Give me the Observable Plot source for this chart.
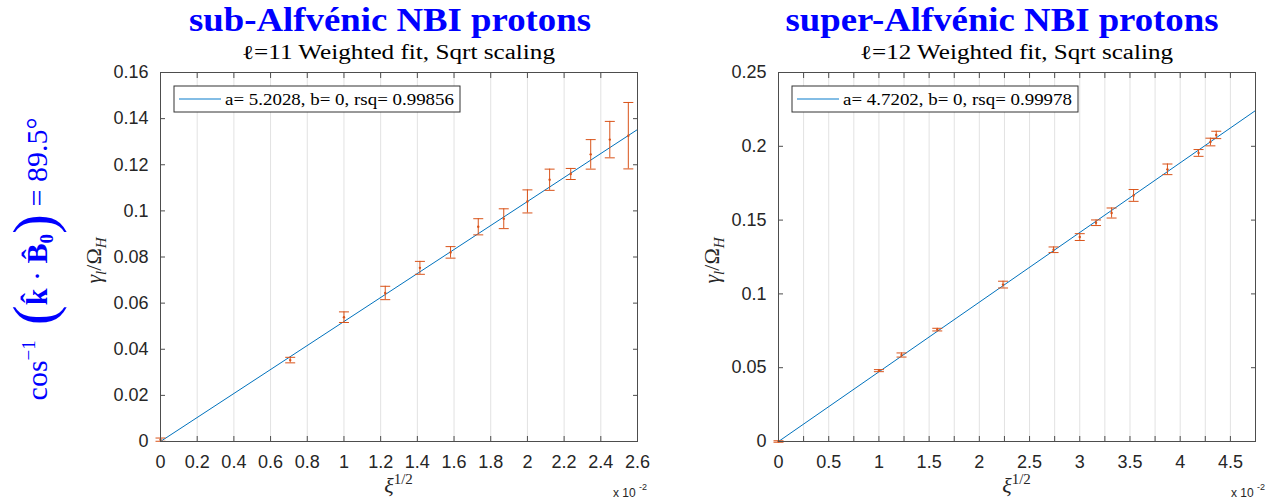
<!DOCTYPE html>
<html>
<head>
<meta charset="utf-8">
<script src="https://cdn.jsdelivr.net/npm/d3@7"></script>
<script src="https://cdn.jsdelivr.net/npm/@observablehq/plot@0.6"></script>
<style>
  html, body { margin: 0; padding: 0; background: #fff; }
  #wrap { display: flex; width: 1287px; height: 501px; overflow: hidden; }
  #wrap svg { display: block; }
</style>
</head>
<body>
<div id="wrap"></div>
<script>
// ---------- data ----------
const titles = ["sub-Alfvénic NBI protons", "super-Alfvénic NBI protons"];
const subtitles = ["ℓ=11 Weighted fit, Sqrt scaling", "ℓ=12 Weighted fit, Sqrt scaling"];
const fitA = [5.2028, 4.7202];
const fitB = [0, 0];
const fitRsq = [0.99856, 0.99978];

// left panel (sub-Alfvenic), x in units of 1e-2
const xSub = [0, 0.707, 1.0, 1.225, 1.414, 1.581, 1.732, 1.871, 2.0, 2.121, 2.236, 2.345, 2.449, 2.55];
const ySub = [0.0008, 0.0353, 0.0539, 0.0644, 0.0753, 0.0820, 0.0931, 0.0966, 0.1041, 0.1135, 0.1160, 0.1245, 0.1309, 0.1326];
const eSub = [0.0007, 0.0012, 0.0023, 0.0029, 0.0028, 0.0025, 0.0035, 0.0043, 0.0050, 0.0046, 0.0024, 0.0064, 0.0079, 0.0144];

// right panel (super-Alfvenic)
const xSup = [0, 1.0, 1.225, 1.581, 2.236, 2.739, 3.0, 3.162, 3.317, 3.536, 3.873, 4.183, 4.301, 4.359];
const ySup = [0, 0.0480, 0.0586, 0.0758, 0.1063, 0.1299, 0.1385, 0.1482, 0.1548, 0.1667, 0.1844, 0.1955, 0.2029, 0.2077];
const eSup = [0.0005, 0.0007, 0.0014, 0.0009, 0.0023, 0.0019, 0.0023, 0.0019, 0.0034, 0.0040, 0.0036, 0.0023, 0.0026, 0.0025];

// axes
const xDomSub = [0, 2.6];
const yDomSub = [0, 0.16];
const xTicksSub = [0, 0.2, 0.4, 0.6, 0.8, 1, 1.2, 1.4, 1.6, 1.8, 2, 2.2, 2.4, 2.6];
const yTicksSub = [0, 0.02, 0.04, 0.06, 0.08, 0.1, 0.12, 0.14, 0.16];

const xDomSup = [0, 4.75];
const yDomSup = [0, 0.25];
const xTicksSup = [0, 0.5, 1, 1.5, 2, 2.5, 3, 3.5, 4, 4.5];
const xMinorSup = [0.25, 0.5, 0.75, 1, 1.25, 1.5, 1.75, 2, 2.25, 2.5, 2.75, 3, 3.25, 3.5, 3.75, 4, 4.25, 4.5];
const yTicksSup = [0, 0.05, 0.1, 0.15, 0.2, 0.25];

const xScaleExp = "-2";
const angleText = "89.5°";

// ---------- styles ----------
const ORANGE = "#D95319";
const BLUE = "#0072BD";
const AXIS = "#262626";
const FRAME = "#4d4d4d";
const GRID = "#e2e2e2";
const SERIF = "'Liberation Serif', 'DejaVu Serif', serif";
const H = 501, MT = 72, MB = 60;

const capSymbol = { draw(ctx) { ctx.moveTo(-5, 0); ctx.lineTo(5, 0); } };

function panel(o) {
  const data = o.xs.map((x, i) => ({ x, y: o.ys[i], e: o.es[i] }));
  const fit = o.xDomain.map(x => ({ x, y: o.a * x / 100 + o.b }));
  const gridVals = o.gridTicks.filter(d => d > o.xDomain[0] && d < o.xDomain[1]);
  const chart = Plot.plot({
    width: o.width, height: H,
    marginLeft: o.marginLeft, marginRight: o.marginRight, marginTop: MT, marginBottom: MB,
    x: { domain: o.xDomain },
    y: { domain: o.yDomain },
    style: { fontFamily: "'Liberation Sans', Arial, sans-serif", fontSize: "18px", color: AXIS, background: "#fff", overflow: "visible" },
    marks: [
      Plot.ruleX(gridVals, { x: d => d, stroke: GRID, strokeWidth: 1 }),
      Plot.line(fit, { x: "x", y: "y", stroke: BLUE, strokeWidth: 1 }),
      Plot.ruleX(data, { x: "x", y1: d => d.y - d.e, y2: d => d.y + d.e, stroke: ORANGE, strokeWidth: 1 }),
      Plot.dot(data, { x: "x", y: d => d.y - d.e, symbol: capSymbol, r: 5, stroke: ORANGE, fill: "none", strokeWidth: 1 }),
      Plot.dot(data, { x: "x", y: d => d.y + d.e, symbol: capSymbol, r: 5, stroke: ORANGE, fill: "none", strokeWidth: 1 }),
      Plot.dot(data, { x: "x", y: "y", r: 1.2, fill: ORANGE, stroke: null }),
      Plot.frame({ stroke: FRAME, strokeWidth: 1 }),
      // inward tick marks on all four sides
      Plot.axisX(o.gridTicks, { anchor: "bottom", tickSize: 5, dy: -5, tickFormat: () => "", label: null, stroke: FRAME }),
      Plot.axisX(o.gridTicks, { anchor: "top", tickSize: 5, dy: 5, tickFormat: () => "", label: null, stroke: FRAME }),
      Plot.axisY(o.yTicks, { anchor: "left", tickSize: 5, dx: 5, tickFormat: () => "", label: null, stroke: FRAME }),
      Plot.axisY(o.yTicks, { anchor: "right", tickSize: 5, dx: -5, tickFormat: () => "", label: null, stroke: FRAME }),
      // tick labels
      Plot.axisX(o.xTicks, { anchor: "bottom", tickSize: 0, tickPadding: 14, label: null, fontSize: 18, tickFormat: d => String(d) }),
      Plot.axisY(o.yTicks, { anchor: "left", tickSize: 0, tickPadding: 12, label: null, fontSize: 18, tickFormat: d => String(d) })
    ]
  });

  const svg = d3.select(chart);
  const fL = o.marginLeft, fR = o.width - o.marginRight, fT = MT, fB = H - MB;
  const cx = (fL + fR) / 2;

  // title
  svg.append("text").attr("x", o.titleX).attr("y", 31)
    .attr("text-anchor", "middle").attr("fill", "#0000ff")
    .attr("font-family", SERIF).attr("font-weight", "bold")
    .attr("font-size", 33).attr("textLength", o.titleLen).attr("lengthAdjust", "spacingAndGlyphs")
    .text(o.title);
  // subtitle
  svg.append("text").attr("x", cx).attr("y", 59)
    .attr("text-anchor", "middle").attr("fill", "#000")
    .attr("font-family", SERIF)
    .attr("font-size", 20).attr("textLength", 313).attr("lengthAdjust", "spacingAndGlyphs")
    .text(o.subtitle);

  // legend
  const lx = fL + 14, ly = fT + 14;
  svg.append("rect").attr("x", lx).attr("y", ly).attr("width", 286).attr("height", 26)
    .attr("fill", "#fff").attr("stroke", "#333").attr("stroke-width", 1);
  svg.append("line").attr("x1", lx + 5).attr("x2", lx + 47).attr("y1", ly + 13).attr("y2", ly + 13)
    .attr("stroke", "#5aa7dd").attr("stroke-width", 1.5);
  svg.append("text").attr("x", lx + 51).attr("y", ly + 19).attr("text-anchor", "start")
    .attr("font-family", SERIF).attr("font-size", 17).attr("fill", "#000")
    .attr("textLength", 229).attr("lengthAdjust", "spacingAndGlyphs")
    .text(`a= ${o.a}, b= ${o.b}, rsq= ${o.rsq}`);

  // x label xi^{1/2}
  const xl = svg.append("text").attr("x", cx).attr("y", 493).attr("text-anchor", "middle")
    .attr("font-family", SERIF).attr("fill", AXIS);
  xl.append("tspan").attr("font-size", 22).attr("font-style", "italic").text("ξ");
  xl.append("tspan").attr("font-size", 15).attr("dy", -9).text("1/2");

  // x 10^-2
  const ex = svg.append("text").attr("x", fR - 24).attr("y", 497).attr("text-anchor", "start")
    .attr("font-family", "'Liberation Sans', Arial, sans-serif").attr("font-size", 12).attr("fill", AXIS);
  ex.append("tspan").text("x 10 ");
  ex.append("tspan").attr("font-size", 9).attr("dy", -7).text(xScaleExp);

  // y label gamma_l / Omega_H
  const yl = svg.append("text").attr("transform", `translate(${o.yLabelX},${(fT + fB) / 2 + 4}) rotate(-90)`)
    .attr("text-anchor", "middle").attr("font-family", SERIF)
    .attr("fill", AXIS).attr("font-size", 22);
  yl.append("tspan").attr("font-style", "italic").text("γ");
  yl.append("tspan").attr("font-style", "italic").attr("font-size", 15).attr("dy", 5).text("l");
  yl.append("tspan").attr("dy", -5).text("/Ω");
  yl.append("tspan").attr("font-style", "italic").attr("font-size", 15).attr("dy", 5).text("H");

  return chart;
}

const left = panel({
  width: 650, marginLeft: 160, marginRight: 13,
  xDomain: xDomSub, yDomain: yDomSub, xTicks: xTicksSub, gridTicks: xTicksSub, yTicks: yTicksSub,
  xs: xSub, ys: ySub, es: eSub, a: fitA[0], b: fitB[0], rsq: fitRsq[0],
  title: titles[0], subtitle: subtitles[0], titleX: 390, titleLen: 402, yLabelX: 101
});
const right = panel({
  width: 637, marginLeft: 128, marginRight: 32,
  xDomain: xDomSup, yDomain: yDomSup, xTicks: xTicksSup, gridTicks: xMinorSup, yTicks: yTicksSup,
  xs: xSup, ys: ySup, es: eSup, a: fitA[1], b: fitB[1], rsq: fitRsq[1],
  title: titles[1], subtitle: subtitles[1], titleX: 352, titleLen: 433, yLabelX: 69
});

// big blue angle label on the far left
{
  const svg = d3.select(left);
  const t = svg.append("text").attr("transform", "translate(47,259) rotate(-90)")
    .attr("text-anchor", "middle").attr("font-family", SERIF)
    .attr("fill", "#0000ff").attr("font-size", 30);
  t.append("tspan").text("cos");
  t.append("tspan").attr("font-size", 19).attr("dy", -12).text("−1");
  t.append("tspan").attr("font-size", 60).attr("dy", 19).text(" (");
  t.append("tspan").attr("font-weight", "bold").attr("dy", -7).text("k\u0302");
  t.append("tspan").text(" · ");
  t.append("tspan").attr("font-weight", "bold").text("B\u0302");
  t.append("tspan").attr("font-size", 19).attr("font-weight", "bold").attr("dy", 6).text("0");
  t.append("tspan").attr("font-size", 60).attr("dy", 1).text(")");
  t.append("tspan").attr("dy", -7).text(" = " + angleText);
}

document.getElementById("wrap").append(left, right);
</script>
</body>
</html>
